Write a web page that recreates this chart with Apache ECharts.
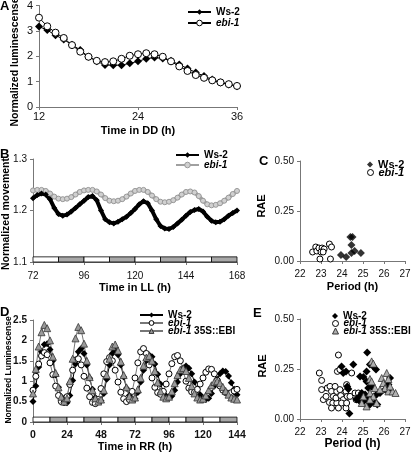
<!DOCTYPE html>
<html><head><meta charset="utf-8">
<script src="https://cdn.jsdelivr.net/npm/echarts@6/dist/echarts.min.js"></script>
<style>html,body{margin:0;padding:0;background:#fff}#c{width:414px;height:455px}</style>
</head><body><div id="c"></div>
<script>
// ---------- Panel A ----------
const hoursA = [12,13,14,15,16,17,18,19,20,21,22,23,24,25,26,27,28,29,30,31,32,33,34,35,36];
const aWs2 = [3.17,3.03,2.83,2.66,2.45,2.25,1.98,1.8,1.66,1.65,1.65,1.72,1.8,1.9,1.95,1.91,1.82,1.67,1.52,1.36,1.22,1.08,0.97,0.89,0.82];
const aEbi = [3.52,3.18,2.93,2.72,2.44,2.18,1.98,1.82,1.77,1.8,1.9,2.02,2.08,2.12,2.08,1.98,1.8,1.6,1.42,1.26,1.15,1.05,0.97,0.9,0.83];
const ticksA = [12,24,36];

// ---------- Panel B ----------
const hoursB = [72,74,76,78,80,82,84,86,88,90,92,94,96,98,100,102,104,106,108,110,112,114,116,118,120,122,124,126,128,130,132,134,136,138,140,142,144,146,148,150,152,154,156,158,160,162,164,166,168];
const bWs2 = [1.224,1.230,1.233,1.231,1.222,1.205,1.193,1.190,1.192,1.198,1.205,1.212,1.219,1.226,1.228,1.220,1.200,1.183,1.177,1.175,1.178,1.183,1.188,1.195,1.203,1.212,1.218,1.214,1.200,1.183,1.170,1.165,1.164,1.168,1.175,1.182,1.190,1.197,1.201,1.203,1.198,1.188,1.180,1.177,1.178,1.183,1.190,1.195,1.200];
const bEbi = [1.239,1.240,1.240,1.238,1.233,1.227,1.223,1.222,1.223,1.226,1.231,1.236,1.239,1.240,1.240,1.237,1.231,1.224,1.219,1.218,1.219,1.222,1.227,1.233,1.238,1.240,1.240,1.236,1.229,1.222,1.217,1.216,1.217,1.220,1.225,1.231,1.236,1.237,1.235,1.228,1.219,1.212,1.210,1.211,1.214,1.219,1.225,1.232,1.238];
// light (0) / dark (1) intervals in LL
const llBars = [[72,84,0],[84,96,1],[96,108,0],[108,120,1],[120,132,0],[132,144,1],[144,156,0],[156,168,1]];

// ---------- Panel C ----------
const cWs2 = [[24.4,0.12],[24.5,0.12],[24.45,0.08],[24.6,0.05],[24.45,0.04],[23.95,0.03],[24.2,0.02],[24.9,0.04]];
const cEbi = [[22.6,0.045],[22.75,0.07],[22.8,0.05],[22.9,0.065],[23.05,0.065],[23.0,0.045],[23.15,0.06],[23.1,0.045],[23.4,0.085],[23.5,0.07],[22.95,0.01],[23.45,0.01]];

// ---------- Panel D ----------
const hoursD = [0,2,4,6,8,10,12,14,16,18,20,22,24,26,28,30,32,34,36,38,40,42,44,46,48,50,52,54,56,58,60,62,64,66,68,70,72,74,76,78,80,82,84,86,88,90,92,94,96,98,100,102,104,106,108,110,112,114,116,118,120,122,124,126,128,130,132,134,136,138,140,142,144];
const dWs2 = [0.50,0.88,1.35,1.72,1.90,1.92,1.78,1.50,1.15,0.85,0.62,0.48,0.47,0.65,1.02,1.42,1.72,1.80,1.68,1.40,1.07,0.80,0.60,0.50,0.52,0.70,1.05,1.40,1.68,1.75,1.65,1.40,1.10,0.83,0.65,0.56,0.57,0.72,0.98,1.27,1.52,1.64,1.60,1.42,1.17,0.93,0.75,0.64,0.60,0.64,0.78,0.98,1.18,1.32,1.37,1.32,1.18,0.98,0.80,0.67,0.59,0.55,0.58,0.70,0.88,1.05,1.18,1.25,1.24,1.13,0.96,0.80,0.67];
const dEbi = [0.78,1.12,1.42,1.62,1.70,1.65,1.45,1.16,0.88,0.65,0.50,0.48,0.62,0.92,1.27,1.52,1.55,1.40,1.12,0.83,0.62,0.48,0.45,0.55,0.82,1.18,1.48,1.58,1.50,1.27,0.98,0.73,0.57,0.50,0.55,0.75,1.08,1.45,1.72,1.80,1.68,1.40,1.08,0.85,0.72,0.68,0.75,0.93,1.18,1.43,1.60,1.63,1.50,1.25,1.00,0.83,0.74,0.73,0.80,0.93,1.08,1.22,1.30,1.29,1.18,1.02,0.88,0.78,0.72,0.70,0.72,0.76,0.80];
const dEbiOx = [0.70,1.30,1.85,2.20,2.38,2.30,2.00,1.60,1.20,0.85,0.62,0.50,0.58,1.00,1.55,2.05,2.33,2.25,1.92,1.50,1.10,0.78,0.58,0.50,0.55,0.78,1.15,1.55,1.85,1.90,1.75,1.48,1.15,0.85,0.63,0.55,0.60,0.80,1.08,1.38,1.58,1.62,1.50,1.25,0.97,0.75,0.62,0.58,0.62,0.75,0.95,1.15,1.28,1.32,1.25,1.08,0.88,0.70,0.60,0.55,0.57,0.65,0.78,0.90,0.98,1.00,0.95,0.86,0.76,0.67,0.60,0.57,0.55];
const rrBars = [[0,12,0],[12,24,1],[24,36,0],[36,48,1],[48,60,0],[60,72,1],[72,84,0],[84,96,1],[96,108,0],[108,120,1],[120,132,0],[132,144,1]];

// ---------- Panel E ----------
const eEbi = [[22.92,0.23],[23.03,0.193],[23.03,0.147],[23.11,0.097],[23.3,0.155],[23.43,0.163],[23.5,0.138],[23.59,0.113],[23.4,0.083],[23.56,0.08],[23.75,0.08],[23.5,0.055],[23.83,0.055],[23.71,0.105],[23.75,0.138],[23.9,0.147],[23.94,0.117],[24.06,0.097],[23.98,0.08],[24.19,0.138],[24.25,0.113],[24.19,0.055],[24.22,0.08],[23.83,0.32],[23.78,0.238],[23.9,0.247],[24.46,0.23],[24.22,0.172],[24.62,0.13],[24.67,0.097],[24.78,0.13],[24.38,0.113],[23.24,0.113],[23.67,0.163]];
const eWs2 = [[25.2,0.333],[23.98,0.263],[24.06,0.23],[24.54,0.272],[24.3,0.15],[24.25,0.163],[24.35,0.027],[24.19,0.238],[24.86,0.213],[25.02,0.21],[25.17,0.238],[25.33,0.272],[25.49,0.263],[25.62,0.247],[25.17,0.188],[25.25,0.155],[25.41,0.163],[24.94,0.13],[25.1,0.122],[25.17,0.097],[25.33,0.097],[25.52,0.113],[25.65,0.122],[24.7,0.097],[24.86,0.088],[25.02,0.088],[25.33,0.072],[25.68,0.072],[25.81,0.13],[26.05,0.147],[26.21,0.172],[26.29,0.205],[26.21,0.147],[24.83,0.113],[25.57,0.08]];
const eEbiOx = [[25.41,0.288],[25.49,0.277],[25.33,0.2],[25.41,0.188],[26.13,0.23],[25.89,0.205],[25.97,0.18],[26.05,0.155],[26.21,0.138],[26.41,0.138],[26.55,0.13],[25.57,0.155],[25.33,0.13],[25.49,0.113],[25.17,0.063],[25.33,0.097],[25.65,0.08],[26.21,0.2],[26.29,0.163],[25.81,0.147],[25.02,0.113],[24.94,0.08]];

const LF = 'Liberation Sans, Arial, sans-serif';
const AX = '#777';

function xAx(grid, min, max, interval, name, gap, opts) {
  opts = opts || {};
  return {
    type: 'value', gridIndex: grid, min: min, max: max, interval: interval,
    name: name, nameLocation: 'middle', nameGap: gap,
    nameTextStyle: {fontFamily: LF, fontWeight: 'bold', fontSize: opts.nameSize || 11, color: '#000'},
    axisLine: {show: true, onZero: false, lineStyle: {color: AX, width: 1}},
    axisTick: {show: true, length: 3, lineStyle: {color: AX}},
    splitLine: {show: false},
    axisLabel: {fontFamily: LF, fontSize: opts.fs || 10, color: '#111', margin: opts.margin || 8, fontWeight: opts.bold ? 'bold' : 'normal', formatter: opts.fmt}
  };
}
function yAx(grid, min, max, interval, opts) {
  opts = opts || {};
  return {
    type: 'value', gridIndex: grid, min: min, max: max, interval: interval,
    axisLine: {show: true, onZero: false, lineStyle: {color: AX, width: 1}},
    axisTick: {show: true, length: 3, lineStyle: {color: AX}},
    splitLine: {show: false},
    axisLabel: {fontFamily: LF, fontSize: opts.fs || 10, color: '#111', margin: opts.margin || 6, fontWeight: opts.bold ? 'bold' : 'normal', formatter: opts.fmt}
  };
}
const zip = (xs, ys) => xs.map((x, i) => [x, ys[i]]);

function barArea(bars, y0, y1) {
  return {
    silent: true,
    data: bars.map(b => [
      {xAxis: b[0], yAxis: y0, itemStyle: {color: b[2] ? '#a8a8a8' : '#ffffff', borderColor: '#000', borderWidth: 0.8}},
      {xAxis: b[1], yAxis: y1}
    ])
  };
}

function richTxt(fs) {
  return {
    b: {fontFamily: LF, fontWeight: 'bold', fontSize: fs, color: '#000', lineHeight: fs},
    i: {fontFamily: LF, fontWeight: 'bold', fontStyle: 'italic', fontSize: fs, color: '#000', lineHeight: fs}
  };
}
function labelOf(n) {
  const t = n.slice(2);
  if (t === 'Ws-2') return '{b|Ws-2}';
  if (t === 'ebi-1') return '{i|ebi-1}';
  return '{i|ebi-1} {b|35S::EBI}';
}
function leg(name, left, top, w, h, fs) {
  fs = fs || 10;
  return {
    data: [name], left: left, top: top, orient: 'vertical', padding: 0,
    itemWidth: w, itemHeight: h, itemGap: 0, selectedMode: false,
    itemStyle: {borderWidth: 1},
    formatter: labelOf,
    textStyle: {fontFamily: LF, fontSize: fs, fontWeight: 'bold', color: '#000', lineHeight: fs, rich: richTxt(fs)}
  };
}

const option = {
  animation: false,
  backgroundColor: '#fff',
  grid: [
    {left: 39, top: 5, width: 198, height: 102},
    {left: 33, top: 159, width: 204, height: 103},
    {left: 300, top: 161, width: 105, height: 100},
    {left: 33, top: 320, width: 204, height: 102},
    {left: 300, top: 319, width: 105, height: 100}
  ],
  xAxis: [
    xAx(0, ticksA[0], ticksA[2], 12, 'Time in DD (h)', 18, {fs: 11, margin: 4}),
    xAx(1, 72, 168, 24, 'Time in LL (h)', 20, {margin: 9}),
    xAx(2, 22, 27, 1, 'Period (h)', 20, {margin: 8}),
    xAx(3, 0, 144, 24, 'Time in RR (h)', 19, {margin: 8, bold: true, fs: 10.5}),
    xAx(4, 22, 27, 1, 'Period (h)', 19, {margin: 8, nameSize: 12})
  ],
  yAxis: [
    yAx(0, 0, 4, 1, {fs: 11, margin: 6}),
    yAx(1, 1.1, 1.3, 0.1, {fmt: v => v.toFixed(1)}),
    yAx(2, 0, 0.5, 0.25, {fmt: v => v.toFixed(2)}),
    yAx(3, 0, 2.5, 0.5, {bold: true}),
    yAx(4, 0, 0.5, 0.25, {fmt: v => v.toFixed(2)})
  ],
  legend: [
    leg('A_Ws-2', 187, 7, 23, 7),
    leg('A_ebi-1', 187, 18, 23, 7),
    leg('B_Ws-2', 175, 150, 23, 7),
    leg('B_ebi-1', 175, 160, 23, 7),
    leg('C_Ws-2', 367, 159, 6, 6, 11),
    leg('C_ebi-1', 367, 167, 6, 6, 11),
    leg('D_Ws-2', 139, 310, 23, 6),
    leg('D_ebi-1', 139, 318, 23, 6),
    leg('D_ebi-1 35S::EBI', 139, 326, 23, 6),
    leg('E_Ws-2', 332, 311, 6, 6),
    leg('E_ebi-1', 332, 318.5, 6, 6),
    leg('E_ebi-1 35S::EBI', 332, 326, 6, 6)
  ],
  series: [
    {name: 'A_Ws-2', type: 'line', xAxisIndex: 0, yAxisIndex: 0, data: zip(hoursA, aWs2),
     symbol: 'diamond', symbolSize: 8, itemStyle: {color: '#000'}, lineStyle: {color: '#000', width: 1}},
    {name: 'A_ebi-1', type: 'line', xAxisIndex: 0, yAxisIndex: 0, data: zip(hoursA, aEbi),
     symbol: 'circle', symbolSize: 7, itemStyle: {color: '#fff', borderColor: '#000', borderWidth: 1}, lineStyle: {color: '#000', width: 1}},

    {name: 'B_ebi-1', type: 'line', xAxisIndex: 1, yAxisIndex: 1, data: zip(hoursB, bEbi),
     symbol: 'circle', symbolSize: 5, itemStyle: {color: '#d0d0d0', borderColor: '#999', borderWidth: 1}, lineStyle: {color: '#a0a0a0', width: 4}},
    {name: 'B_Ws-2', type: 'line', xAxisIndex: 1, yAxisIndex: 1, data: zip(hoursB, bWs2),
     symbol: 'diamond', symbolSize: 6, itemStyle: {color: '#000'}, lineStyle: {color: '#000', width: 4},
     markArea: barArea(llBars, 1.1, 1.11)},

    {name: 'C_Ws-2', type: 'scatter', xAxisIndex: 2, yAxisIndex: 2, data: cWs2,
     symbol: 'diamond', symbolSize: 8, itemStyle: {color: '#000'}},
    {name: 'C_ebi-1', type: 'scatter', xAxisIndex: 2, yAxisIndex: 2, data: cEbi,
     symbol: 'circle', symbolSize: 6, itemStyle: {color: '#fff', borderColor: '#000', borderWidth: 1, opacity: 1}},

    {name: 'D_Ws-2', type: 'line', xAxisIndex: 3, yAxisIndex: 3, data: zip(hoursD, dWs2),
     symbol: 'diamond', symbolSize: 7, itemStyle: {color: '#000'}, lineStyle: {color: '#000', width: 1},
     markArea: barArea(rrBars, 0, 0.12)},
    {name: 'D_ebi-1', type: 'line', xAxisIndex: 3, yAxisIndex: 3, data: zip(hoursD, dEbi),
     symbol: 'circle', symbolSize: 6, itemStyle: {color: '#fff', borderColor: '#000', borderWidth: 1}, lineStyle: {color: '#777', width: 1}},
    {name: 'D_ebi-1 35S::EBI', type: 'line', xAxisIndex: 3, yAxisIndex: 3, data: zip(hoursD, dEbiOx),
     symbol: 'triangle', symbolSize: 7, itemStyle: {color: '#9a9a9a', borderColor: '#333', borderWidth: 0.8}, lineStyle: {color: '#777', width: 1}},

    {name: 'E_ebi-1', type: 'scatter', xAxisIndex: 4, yAxisIndex: 4, data: eEbi,
     symbol: 'circle', symbolSize: 6, itemStyle: {color: '#fff', borderColor: '#000', borderWidth: 1, opacity: 1}},
    {name: 'E_Ws-2', type: 'scatter', xAxisIndex: 4, yAxisIndex: 4, data: eWs2,
     symbol: 'diamond', symbolSize: 8, itemStyle: {color: '#000', opacity: 1}},
    {name: 'E_ebi-1 35S::EBI', type: 'scatter', xAxisIndex: 4, yAxisIndex: 4, data: eEbiOx,
     symbol: 'triangle', symbolSize: 7, itemStyle: {color: '#b0b0b0', borderColor: '#333', borderWidth: 0.8, opacity: 1}}
  ],
  graphic: [
    {type: 'text', x: 0, y: 0, style: {text: 'A', fontFamily: LF, fontWeight: 'bold', fontSize: 13, fill: '#000'}},
    {type: 'text', x: 0, y: 148, style: {text: 'B', fontFamily: LF, fontWeight: 'bold', fontSize: 13, fill: '#000'}},
    {type: 'text', x: 259, y: 155, style: {text: 'C', fontFamily: LF, fontWeight: 'bold', fontSize: 13, fill: '#000'}},
    {type: 'text', x: 0, y: 306, style: {text: 'D', fontFamily: LF, fontWeight: 'bold', fontSize: 13, fill: '#000'}},
    {type: 'text', x: 253, y: 307, style: {text: 'E', fontFamily: LF, fontWeight: 'bold', fontSize: 13, fill: '#000'}},
    {type: 'text', x: 15, y: 62, rotation: Math.PI / 2, style: {text: 'Normalized luminescense', fontFamily: LF, fontWeight: 'bold', fontSize: 10.5, fill: '#000', align: 'center', verticalAlign: 'middle'}},
    {type: 'text', x: 6, y: 214, rotation: Math.PI / 2, style: {text: 'Normalized movement', fontFamily: LF, fontWeight: 'bold', fontSize: 10.5, fill: '#000', align: 'center', verticalAlign: 'middle'}},
    {type: 'text', x: 262, y: 206, rotation: Math.PI / 2, style: {text: 'RAE', fontFamily: LF, fontWeight: 'bold', fontSize: 11, fill: '#000', align: 'center', verticalAlign: 'middle'}},
    {type: 'text', x: 9, y: 370, rotation: Math.PI / 2, style: {text: 'Normalized Luminescense', fontFamily: LF, fontWeight: 'bold', fontSize: 8.5, fill: '#000', align: 'center', verticalAlign: 'middle'}},
    {type: 'text', x: 263, y: 366, rotation: Math.PI / 2, style: {text: 'RAE', fontFamily: LF, fontWeight: 'bold', fontSize: 11, fill: '#000', align: 'center', verticalAlign: 'middle'}}
  ]
};

const chart = echarts.init(document.getElementById('c'), null, {renderer: 'canvas'});
chart.setOption(option);
</script></body></html>
